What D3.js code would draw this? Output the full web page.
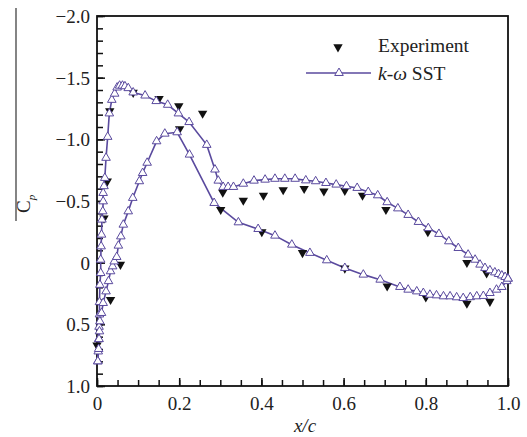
<!DOCTYPE html>
<html>
<head>
<meta charset="utf-8">
<script src="https://cdn.jsdelivr.net/npm/d3@7"></script>
<style>
  body { margin: 0; background: #fff; }
  svg { display: block; }
  text { font-family: "Liberation Serif", "DejaVu Serif", serif; }
</style>
</head>
<body>
<div id="chart"></div>
<script>
// model curve (k-w SST), suction side and pressure side, both from leading edge
var upperX = [0.002, 0.003, 0.004, 0.005, 0.006, 0.006, 0.007, 0.009, 0.009, 0.010, 0.011, 0.012, 0.014, 0.015, 0.015, 0.017, 0.019, 0.022, 0.026, 0.030, 0.036, 0.043, 0.049, 0.055, 0.062, 0.068, 0.076, 0.088, 0.117, 0.144, 0.172, 0.198, 0.224, 0.267, 0.287, 0.295, 0.307, 0.319, 0.332, 0.356, 0.382, 0.409, 0.433, 0.457, 0.482, 0.508, 0.532, 0.557, 0.582, 0.607, 0.633, 0.660, 0.683, 0.706, 0.732, 0.757, 0.782, 0.806, 0.832, 0.856, 0.879, 0.903, 0.920, 0.932, 0.944, 0.956, 0.968, 0.977, 0.985, 0.993, 1.0];
var upperCp = [0.80, 0.72, 0.62, 0.52, 0.42, 0.32, 0.18, 0.084, -0.024, -0.132, -0.227, -0.349, -0.416, -0.497, -0.565, -0.62, -0.687, -0.85, -1.02, -1.21, -1.32, -1.37, -1.42, -1.435, -1.435, -1.43, -1.415, -1.38, -1.355, -1.31, -1.28, -1.21, -1.14, -0.955, -0.755, -0.665, -0.614, -0.614, -0.614, -0.64, -0.665, -0.673, -0.68, -0.68, -0.68, -0.667, -0.66, -0.646, -0.633, -0.62, -0.606, -0.573, -0.546, -0.49, -0.44, -0.387, -0.33, -0.28, -0.233, -0.173, -0.119, -0.065, -0.024, 0.016, 0.043, 0.062, 0.079, 0.092, 0.104, 0.116, 0.13];

var lowerX = [0.002, 0.004, 0.005, 0.006, 0.007, 0.011, 0.015, 0.022, 0.028, 0.033, 0.038, 0.042, 0.048, 0.052, 0.058, 0.064, 0.076, 0.087, 0.103, 0.111, 0.122, 0.145, 0.165, 0.195, 0.225, 0.285, 0.344, 0.392, 0.433, 0.474, 0.518, 0.559, 0.603, 0.648, 0.689, 0.737, 0.757, 0.778, 0.794, 0.810, 0.826, 0.843, 0.859, 0.875, 0.891, 0.908, 0.924, 0.940, 0.956, 0.972, 0.985, 0.997, 1.0];
var lowerCp = [0.80, 0.70, 0.62, 0.557, 0.476, 0.408, 0.327, 0.233, 0.15, 0.07, 0.03, -0.01, -0.046, -0.138, -0.213, -0.308, -0.416, -0.525, -0.66, -0.727, -0.81, -0.984, -1.046, -1.057, -0.876, -0.484, -0.327, -0.273, -0.219, -0.146, -0.079, -0.019, 0.043, 0.097, 0.138, 0.197, 0.219, 0.233, 0.246, 0.26, 0.265, 0.273, 0.273, 0.281, 0.287, 0.28, 0.273, 0.27, 0.246, 0.219, 0.197, 0.15, 0.13];

// experiment
var expX = [0.0, 0.017, 0.025, 0.031, 0.088, 0.151, 0.199, 0.257, 0.306, 0.356, 0.405, 0.453, 0.504, 0.552, 0.603, 0.646, 0.703, 0.805, 0.900, 0.948,
            0.033, 0.057, 0.201, 0.301, 0.401, 0.500, 0.603, 0.706, 0.800, 0.900, 0.956];
var expCp = [0.67, -0.36, -0.66, -1.23, -1.38, -1.33, -1.27, -1.21, -0.57, -0.505, -0.545, -0.59, -0.60, -0.58, -0.585, -0.545, -0.43, -0.25, 0.0, 0.085,
             0.30, 0.015, -1.085, -0.43, -0.25, -0.08, 0.045, 0.19, 0.28, 0.33, 0.315];

var xTicks = [0, 0.2, 0.4, 0.6, 0.8, 1.0];
var xTickLabels = ["0", "0.2", "0.4", "0.6", "0.8", "1.0"];
var yTicks = [-2.0, -1.5, -1.0, -0.5, 0, 0.5, 1.0];
var yTickLabels = ["\u22122.0", "\u22121.5", "\u22121.0", "\u22120.5", "0", "0.5", "1.0"];

var width = 527;
var height = 437;
var pLeft = 97, pRight = 508, pTop = 16, pBottom = 386;
var purple = "#5a4a9e";

var svg = d3.select("#chart")
    .append("svg")
    .attr("width", width)
    .attr("height", height);

var x = d3.scaleLinear().domain([0, 1]).range([pLeft, pRight]);
var y = d3.scaleLinear().domain([-2, 1]).range([pTop, pBottom]);

// axes: ticks inward
var xAxis = d3.axisBottom(x).tickValues(xTicks).tickSize(-8).tickSizeOuter(0)
    .tickFormat(function (d, i) { return xTickLabels[i]; });
var xMinor = d3.axisBottom(x).tickValues(d3.range(0, 1.0001, 0.05)).tickSize(-6).tickSizeOuter(0).tickFormat("");
var yAxis = d3.axisLeft(y).tickValues(yTicks).tickSize(-8).tickSizeOuter(0)
    .tickFormat(function (d, i) { return yTickLabels[i]; });
var yMinor = d3.axisLeft(y).tickValues(d3.range(-2, 1.0001, 0.1)).tickSize(-6).tickSizeOuter(0).tickFormat("");

var gx = svg.append("g").attr("transform", "translate(0," + pBottom + ")").call(xAxis);
svg.append("g").attr("transform", "translate(0," + pBottom + ")").call(xMinor);
var gy = svg.append("g").attr("transform", "translate(" + pLeft + ",0)").call(yAxis);
svg.append("g").attr("transform", "translate(" + pLeft + ",0)").call(yMinor);

svg.selectAll(".domain").remove();
svg.selectAll(".tick line").attr("stroke", "#111").attr("stroke-width", 1.5);
gx.selectAll("text").attr("font-size", 19).attr("fill", "#222").attr("dy", null).attr("y", 24);
gy.selectAll("text").attr("font-size", 19).attr("fill", "#222").attr("x", -7).attr("dy", "0.35em");

// frame
svg.append("rect")
    .attr("x", pLeft).attr("y", pTop)
    .attr("width", pRight - pLeft).attr("height", pBottom - pTop)
    .attr("fill", "none").attr("stroke", "#111").attr("stroke-width", 1.8);

// axis titles
svg.append("text")
    .attr("x", 305).attr("y", 432)
    .attr("text-anchor", "middle")
    .attr("font-size", 19).attr("font-style", "italic").attr("fill", "#222")
    .text("x/c");

var yl = svg.append("text")
    .attr("transform", "translate(30,213) rotate(-90)")
    .attr("font-size", 19).attr("fill", "#222");
yl.append("tspan").text("C");
yl.append("tspan").attr("font-size", 11).attr("font-style", "italic").attr("dy", 5).text("p");
svg.append("line")
    .attr("x1", 16).attr("x2", 16).attr("y1", 8).attr("y2", 221)
    .attr("stroke", "#333").attr("stroke-width", 1.2);

// model curve
var upper = upperX.map(function (d, i) { return [d, upperCp[i]]; });
var lower = lowerX.map(function (d, i) { return [d, lowerCp[i]]; });
var line = d3.line().x(d => x(d[0])).y(d => y(d[1]));

svg.append("path").datum(upper).attr("d", line)
    .attr("fill", "none").attr("stroke", purple).attr("stroke-width", 1.6);
svg.append("path").datum(lower).attr("d", line)
    .attr("fill", "none").attr("stroke", purple).attr("stroke-width", 1.6);

var tri = d3.symbol().type(d3.symbolTriangle).size(32);
var triDown = d3.symbol().type(d3.symbolTriangle).size(38);

// experiment markers
svg.append("g").selectAll("path")
    .data(expX.map(function (d, i) { return [d, expCp[i]]; }))
    .join("path")
    .attr("d", triDown)
    .attr("transform", d => "translate(" + x(d[0]) + "," + y(d[1]) + ") rotate(180)")
    .attr("fill", "#111");

// model markers
svg.append("g").selectAll("path")
    .data(upper.concat(lower))
    .join("path")
    .attr("d", tri)
    .attr("transform", d => "translate(" + x(d[0]) + "," + y(d[1]) + ")")
    .attr("fill", "#fff")
    .attr("stroke", purple)
    .attr("stroke-width", 1);

// legend
var lg = svg.append("g");
lg.append("path").attr("d", triDown)
    .attr("transform", "translate(338,47) rotate(180)").attr("fill", "#111");
lg.append("text").attr("x", 378).attr("y", 52)
    .attr("font-size", 19.5).attr("fill", "#222").text("Experiment");
lg.append("line").attr("x1", 306).attr("x2", 371).attr("y1", 73).attr("y2", 73)
    .attr("stroke", purple).attr("stroke-width", 1.6);
lg.append("path").attr("d", tri)
    .attr("transform", "translate(339,73)")
    .attr("fill", "#fff").attr("stroke", purple).attr("stroke-width", 1);
var lt = lg.append("text").attr("x", 378).attr("y", 80)
    .attr("font-size", 19.5).attr("fill", "#222");
lt.append("tspan").attr("font-style", "italic").text("k");
lt.append("tspan").text("-");
lt.append("tspan").attr("font-style", "italic").text("\u03c9");
lt.append("tspan").text(" SST");
</script>
</body>
</html>
